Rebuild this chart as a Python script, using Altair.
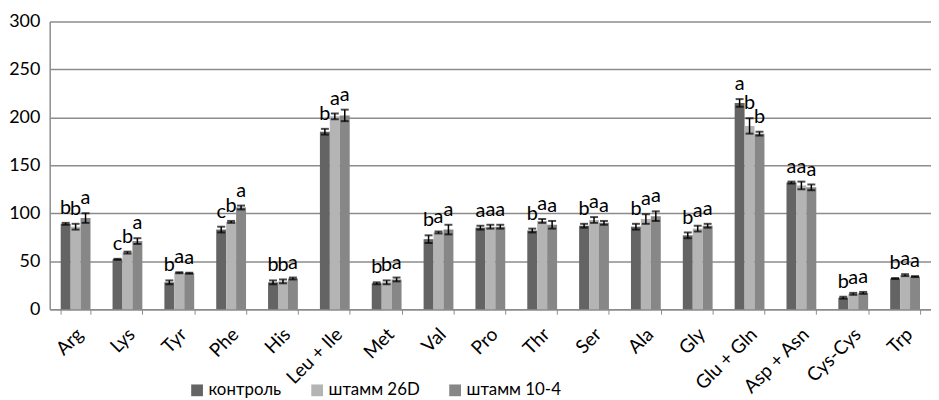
import altair as alt
import pandas as pd

categories = ["Arg", "Lys", "Tyr", "Phe", "His", "Leu + Ile", "Met", "Val", "Pro",
              "Thr", "Ser", "Ala", "Gly", "Glu + Gln", "Asp + Asn", "Cys-Cys", "Trp"]
groups = ["контроль", "штамм 26D", "штамм 10-4"]

control = [89, 52, 28, 83, 28, 185, 27, 73, 85, 82, 87, 86, 77, 215, 132, 12, 32]
strain_26d = [86, 59, 38, 91, 29, 201, 28, 80, 86, 92, 93, 94, 84, 191, 129, 16, 35.5]
strain_104 = [95, 71, 37.5, 106, 32, 202, 31, 83, 86, 88, 90, 97, 87, 183, 127, 17, 34]

err_control = [1, 0.5, 2, 3, 2, 3, 1, 4, 2, 2, 2, 3, 3, 4, 1, 1, 0.5]
err_26d = [3, 1, 0.5, 1, 2, 3, 2, 1, 2, 2, 3, 5, 3, 8, 4, 1, 1]
err_104 = [5, 3, 0.5, 2, 1, 6, 2, 5, 2, 4, 2, 5, 2, 2, 3, 1, 0.5]

let_control = ["b", "c", "b", "c", "b", "b", "b", "b", "a", "b", "b", "b", "b", "a", "a", "b", "b"]
let_26d = ["b", "b", "a", "b", "b", "a", "b", "a", "a", "a", "a", "a", "a", "b", "a", "a", "a"]
let_104 = ["a", "a", "a", "a", "a", "a", "a", "a", "a", "a", "a", "a", "a", "b", "a", "a", "a"]

colors = ["#646464", "#b4b4b4", "#878787"]

rows = []
for vals, errs, lets, g in [(control, err_control, let_control, groups[0]),
                            (strain_26d, err_26d, let_26d, groups[1]),
                            (strain_104, err_104, let_104, groups[2])]:
    for c, v, e, l in zip(categories, vals, errs, lets):
        rows.append({"cat": c, "group": g, "value": v, "lo": v - e, "hi": v + e, "letter": l})
df = pd.DataFrame(rows)

FONT = "Lato"

x_enc = alt.X("cat:N", sort=categories, title=None,
              scale=alt.Scale(paddingInner=0.425, paddingOuter=0.2125),
              axis=alt.Axis(labelAngle=-45, labelAlign="right", labelBaseline="middle",
                            labelFontSize=19, labelFont=FONT, labelColor="black",
                            labelPadding=17, labelOffset=4, tickBand="extent", tickSize=5,
                            tickColor="#8c8c8c", domainColor="#8c8c8c", domainWidth=1.5,
                            grid=False))
xo = alt.XOffset("group:N", sort=groups)

base = alt.Chart(df)

bars = base.mark_bar(stroke=None).encode(
    x=x_enc,
    xOffset=xo,
    y=alt.Y("value:Q", title=None,
            scale=alt.Scale(domain=[0, 300], nice=False),
            axis=alt.Axis(values=[0, 50, 100, 150, 200, 250, 300], labelFontSize=18,
                          labelFont=FONT, labelColor="black", labelPadding=10,
                          ticks=False, gridColor="#8c8c8c", gridWidth=1.5,
                          domainColor="#8c8c8c", domainWidth=1.5)),
    color=alt.Color("group:N", sort=groups,
                    scale=alt.Scale(domain=groups, range=colors),
                    legend=alt.Legend(title=None, orient="none", direction="horizontal",
                                      legendX=140, legendY=363, symbolType="square",
                                      symbolSize=140, symbolStrokeWidth=0,
                                      labelFontSize=17, labelFont=FONT, labelColor="black",
                                      columnPadding=27, labelOffset=3)),
)

err_rule = base.mark_rule(color="black", strokeWidth=1.5).encode(
    x=alt.X("cat:N", sort=categories),
    xOffset=xo,
    y="lo:Q",
    y2="hi:Q",
)
cap_lo = base.mark_tick(color="black", thickness=2, size=8).encode(
    x=alt.X("cat:N", sort=categories), xOffset=xo, y="lo:Q")
cap_hi = base.mark_tick(color="black", thickness=2, size=8).encode(
    x=alt.X("cat:N", sort=categories), xOffset=xo, y="hi:Q")

letters = base.mark_text(baseline="alphabetic", dy=-9, fontSize=20, font=FONT,
                         color="black").encode(
    x=alt.X("cat:N", sort=categories), xOffset=xo, y="hi:Q", text="letter:N")

chart = alt.layer(bars, err_rule, cap_lo, cap_hi, letters).properties(
    width=888, height=290,
    autosize=alt.AutoSizeParams(type="none"),
    padding={"left": 42, "top": 12, "right": 0, "bottom": 90},
).configure_view(stroke=None)

chart.save("out.html", embed_options={"renderer": "svg", "actions": False})
